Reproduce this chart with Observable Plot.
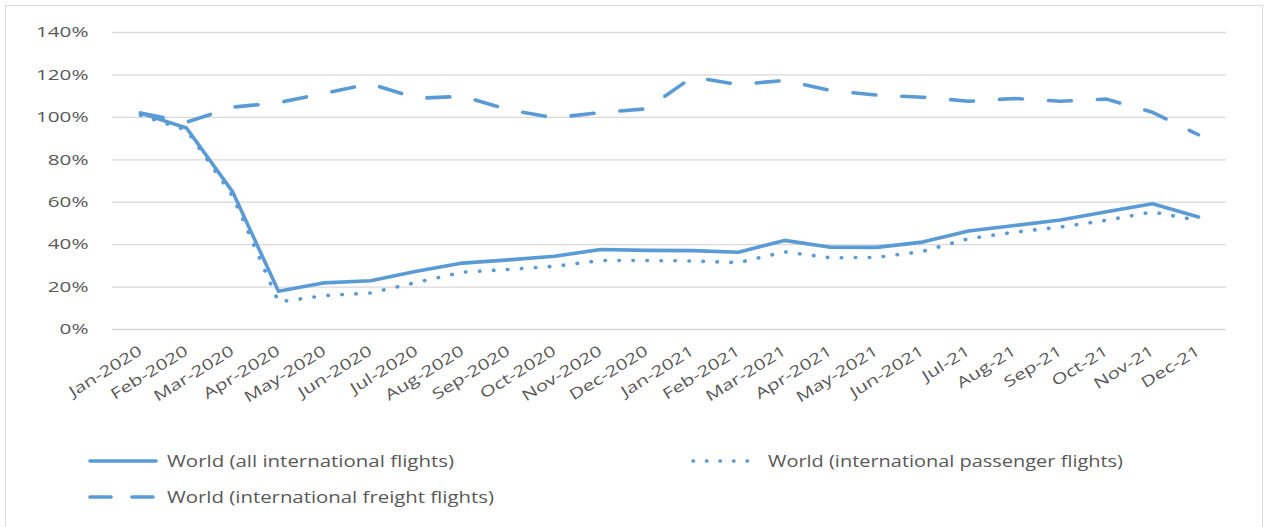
<!DOCTYPE html>
<html>
<head>
<meta charset="utf-8">
<script src="https://cdn.jsdelivr.net/npm/d3@7"></script>
<script src="https://cdn.jsdelivr.net/npm/@observablehq/plot@0.6"></script>
<style>
  html, body { margin: 0; padding: 0; background: #fff; }
  #wrap { position: relative; width: 1268px; height: 527px; overflow: hidden; font-family: "Open Sans", sans-serif; }
  #frame { position: absolute; left: 5px; top: 5px; width: 1258px; height: 540px; border: 1px solid #d9d9d9; box-sizing: border-box; pointer-events: none; }
  #chart { position: absolute; left: 0; top: 0; }
  .leg { position: absolute; height: 24px; display: flex; align-items: center; }
  .leg svg { display: block; }
  .legtxt { position: absolute; color: #595959; font-size: 16px; line-height: 24px; white-space: nowrap; transform-origin: 0 50%; }
</style>
</head>
<body>
<div id="wrap">
  <div id="chart"></div>
  <div id="frame"></div>
  <div id="legend"></div>
</div>
<script>
// ---- data ----
const months = ["Jan-2020","Feb-2020","Mar-2020","Apr-2020","May-2020","Jun-2020","Jul-2020","Aug-2020","Sep-2020","Oct-2020","Nov-2020","Dec-2020","Jan-2021","Feb-2021","Mar-2021","Apr-2021","May-2021","Jun-2021","Jul-21","Aug-21","Sep-21","Oct-21","Nov-21","Dec-21"];
const allFlights = [102, 95, 65, 18, 22, 23, 27.5, 31.3, 32.8, 34.5, 37.7, 37.3, 37.2, 36.4, 42, 38.8, 38.7, 41.2, 46.4, 49, 51.6, 55.5, 59.3, 53];
const passengerFlights = [101, 94, 63, 13, 16, 17.2, 22.2, 27, 28.3, 29.8, 32.5, 32.5, 32.3, 31.5, 36.6, 33.8, 34, 36.8, 42.8, 45.9, 48.3, 51.5, 55.4, 51.4];
const freightFlights = [102, 97.7, 104.8, 106.9, 111.4, 115.8, 109, 109.9, 103.6, 99.8, 102.3, 104, 119, 115.5, 117.4, 112.7, 110.5, 109.5, 107.6, 108.9, 107.6, 108.6, 102.4, 91.8];
const yTicks = [0, 20, 40, 60, 80, 100, 120, 140];
const seriesNames = ["World (all international flights)", "World (international passenger flights)", "World (international freight flights)"];

const toRows = vals => months.map((m, i) => ({month: m, value: vals[i]}));
const blue = "#5B9BD5";

const chart = Plot.plot({
  width: 1268,
  height: 425,
  marginLeft: 112,
  marginRight: 42,
  marginTop: 32,
  marginBottom: 96,
  style: {fontFamily: "'Open Sans', sans-serif", fontSize: "15px", color: "#595959", background: "transparent", overflow: "visible"},
  x: {type: "point", domain: months, padding: 0.5, label: null},
  y: {domain: [0, 140], label: null},
  marks: [
    Plot.ruleY(yTicks, {stroke: "#d9d9d9", strokeWidth: 1.3}),
    Plot.axisY({ticks: yTicks, tickSize: 0, tickPadding: 24, tickFormat: d => d + "%", fill: "#595959", fontSize: 15}),
    Plot.axisX({tickSize: 0, tickRotate: -32, tickPadding: 20, fill: "#595959", fontSize: 15}),
    Plot.line(toRows(freightFlights), {x: "month", y: "value", stroke: blue, strokeWidth: 3.6, strokeDasharray: "23,26", strokeLinecap: "round", strokeLinejoin: "round"}),
    Plot.line(toRows(passengerFlights), {x: "month", y: "value", stroke: blue, strokeWidth: 3.6, strokeDasharray: "0.5,13.5", strokeLinecap: "round", strokeLinejoin: "round"}),
    Plot.line(toRows(allFlights), {x: "month", y: "value", stroke: blue, strokeWidth: 3.6, strokeLinecap: "round", strokeLinejoin: "round"})
  ]
});
document.getElementById("chart").appendChild(chart);

// horizontal stretch of tick labels to mimic the reference's wide lettering
function stretch(svg, selector, s) {
  svg.querySelectorAll(selector).forEach(t => {
    const tr = t.getAttribute("transform") || "";
    t.setAttribute("transform", `${tr} scale(${s},1)`);
  });
}
stretch(chart, '[aria-label="y-axis tick label"] text', 1.38);
stretch(chart, '[aria-label="x-axis tick label"] text', 1.36);

// ---- legend ----
const legendItems = [
  {name: seriesNames[0], dash: null, sx: 90, tx: 167, cy: 461, tw: 287},
  {name: seriesNames[1], dash: "0.5,13", sx: 693, tx: 768, cy: 461, tw: 355},
  {name: seriesNames[2], dash: "21,21", sx: 90, tx: 167, cy: 497, tw: 327}
];
const legend = document.getElementById("legend");
legendItems.forEach(it => {
  const sw = document.createElement("div");
  sw.className = "leg";
  sw.style.left = (it.sx - 2) + "px";
  sw.style.top = (it.cy - 12) + "px";
  const dashAttr = it.dash ? ` stroke-dasharray="${it.dash}"` : "";
  sw.innerHTML = `<svg width="72" height="24"><line x1="2" y1="12" x2="68" y2="12" stroke="${blue}" stroke-width="3.6" stroke-linecap="round"${dashAttr}/></svg>`;
  legend.appendChild(sw);
  const tx = document.createElement("div");
  tx.className = "legtxt";
  tx.style.left = it.tx + "px";
  tx.style.top = (it.cy - 12) + "px";
  tx.textContent = it.name;
  legend.appendChild(tx);
  const w = tx.getBoundingClientRect().width;
  if (w > 0) tx.style.transform = `scaleX(${it.tw / w})`;
});
</script>
</body>
</html>
